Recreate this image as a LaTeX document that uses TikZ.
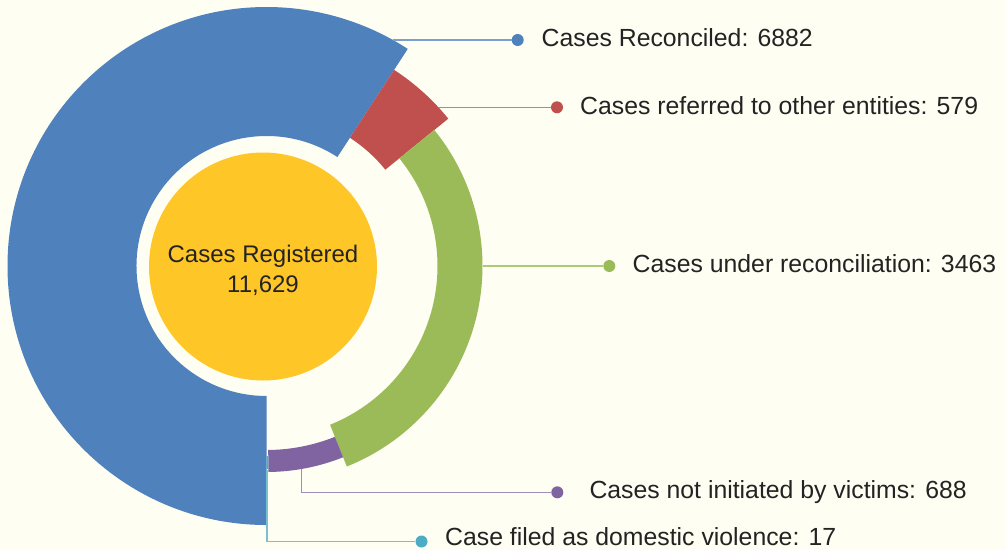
\documentclass[tikz,border=0pt]{standalone}
\usepackage{fontspec}
\setmainfont{Liberation Sans}

\definecolor{bgcream}{HTML}{FEFEF3}
\definecolor{reconblue}{HTML}{4F81BD}
\definecolor{referred}{HTML}{C0504D}
\definecolor{underrec}{HTML}{9BBB59}
\definecolor{notinit}{HTML}{8064A2}
\definecolor{domestic}{HTML}{4BACC6}
\definecolor{registered}{HTML}{FFC627}
\definecolor{txtdark}{HTML}{232323}

\tikzset{
  leader/.style={line width=1.3pt},
  dot/.style={circle,inner sep=0pt,minimum size=12pt},
  caption/.style={anchor=base west,inner sep=0pt,text=txtdark,font=\fontsize{24.8}{28}\selectfont}
}

\begin{document}
\begin{tikzpicture}[x=1pt,y=-1pt]

\useasboundingbox (0,0) rectangle (1006,550);
\fill[bgcream] (0,0) rectangle (1006,550);

% ring segments, clockwise from the bottom:
\begin{scope}[shift={(266.5,266)}]
\fill[reconblue] (56.95:130pt) arc[start angle=56.95,end angle=270,radius=130pt]
  -- (270:259pt) arc[start angle=270,end angle=56.95,radius=259pt] -- cycle;
\fill[referred] (39.03:153pt) arc[start angle=39.03,end angle=56.95,radius=153pt]
  -- (56.95:234pt) arc[start angle=56.95,end angle=39.03,radius=234pt] -- cycle;
\fill[underrec] (-68.17:171pt) arc[start angle=-68.17,end angle=39.03,radius=171pt]
  -- (39.03:216pt) arc[start angle=39.03,end angle=-68.17,radius=216pt] -- cycle;
\fill[notinit] (-89.47:184pt) arc[start angle=-89.47,end angle=-68.17,radius=184pt]
  -- (-68.17:206pt) arc[start angle=-68.17,end angle=-89.47,radius=206pt] -- cycle;
\fill[domestic] (-90:190pt) arc[start angle=-90,end angle=-89.47,radius=190pt]
  -- (-89.47:203pt) arc[start angle=-89.47,end angle=-90,radius=203pt] -- cycle;
\end{scope}

% centre
\node[circle,fill=registered,minimum size=228pt] (registered) at (263,266.5) {};
\node[align=center,text=txtdark,font=\fontsize{24}{30}\selectfont]
  (regtext) at (263,270.5) {Cases Registered\\11,629};

% leader feet on the ring
\coordinate (reconfoot) at (393,40);
\coordinate (referfoot) at (438.7,107.3);
\coordinate (underfoot) at (482.5,266);
\coordinate (notfoot) at (301.7,469);
\coordinate (domfoot) at (267,470);

% dots
\node[dot,fill=reconblue] (recondot) at (517.7,40) {};
\node[dot,fill=referred] (referdot) at (557,107.3) {};
\node[dot,fill=underrec] (underdot) at (609.3,266) {};
\node[dot,fill=notinit] (notdot) at (557.3,492.3) {};
\node[dot,fill=domestic] (domdot) at (421.5,541.5) {};

\draw[leader,reconblue!75] (reconfoot) -- (recondot);
\draw[leader,referred!75] (referfoot) -- (referdot);
\draw[leader,underrec!80] (underfoot) -- (underdot);
\draw[leader,notinit!75] (notfoot) |- (notdot);
\draw[leader,domestic!75] (domfoot) |- (domdot);

% labels
\node[caption] (reconlabel) at (541.5,46.7) {Cases Reconciled: 6882};
\node[caption] (referlabel) at (580,114.7) {Cases referred to other entities: 579};
\node[caption] (underlabel) at (632.5,272.5) {Cases under reconciliation: 3463};
\node[caption] (notlabel) at (589.3,498.5) {Cases not initiated by victims: 688};
\node[caption] (domlabel) at (445,545) {Case filed as domestic violence: 17};

\end{tikzpicture}
\end{document}
